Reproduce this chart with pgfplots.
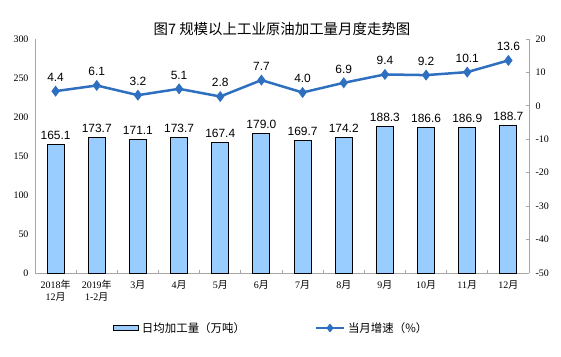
\documentclass[border=0pt]{standalone}
\usepackage{fontspec}
\setmainfont{Liberation Serif}
\newfontfamily\cjk{Noto Sans CJK SC}
\newfontfamily\arial{Liberation Sans}
\usepackage{pgfplots}
\pgfplotsset{compat=1.18}
\definecolor{barblue}{HTML}{99CCFF}
\definecolor{lineblue}{HTML}{2E6FC0}
\definecolor{axgray}{HTML}{A6A6A6}
\newcommand{\zh}[1]{{\cjk #1}}
\begin{document}
\begin{tikzpicture}
\useasboundingbox (-35bp,-84bp) rectangle (526bp,273bp);
\begin{axis}[
  scale only axis, width=494bp, height=234bp,
  xmin=-0.5, xmax=11.5, ymin=0, ymax=300,
  ytick={0,50,...,300},
  xtick={0,...,11},
  xticklabels={2018\zh{年}\\12\zh{月}, 2019\zh{年}\\1-2\zh{月}, 3\zh{月}, 4\zh{月}, 5\zh{月}, 6\zh{月}, 7\zh{月}, 8\zh{月}, 9\zh{月}, 10\zh{月}, 11\zh{月}, 12\zh{月}},
  x tick label style={font=\fontsize{10}{12}\selectfont, align=center, yshift=-4bp},
  y tick label style={font=\fontsize{10}{11}\selectfont, xshift=-3bp},
  /pgf/number format/assume math mode=true,
  major tick length=0pt,
  minor xtick={-0.5,0.5,...,11.5},
  minor tick length=3bp,
  tick align=inside,
  axis x line*=bottom, axis y line*=left,
  axis line style={axgray, line width=0.8bp, -},
  minor tick style={axgray, line width=0.8bp},
  title={\cjk\fontsize{14.5}{16}\selectfont 图7\ 规模以上工业原油加工量月度走势图},
  title style={at={(0.5,1)}, anchor=south, yshift=-6bp},
  clip=false,
]
\addplot[ybar, bar width=17bp, fill=barblue, draw=black, line width=1bp,
  nodes near coords={\pgfmathprintnumber[fixed, fixed zerofill, precision=1, assume math mode=true]{\pgfplotspointmeta}},
  every node near coord/.append style={font=\arial\fontsize{12}{13}\selectfont, black, yshift=1bp}]
coordinates {(0,165.1) (1,173.7) (2,171.1) (3,173.7) (4,167.4) (5,179.0) (6,169.7) (7,174.2) (8,188.3) (9,186.6) (10,186.9) (11,188.7)};
\end{axis}
\begin{axis}[
  scale only axis, width=494bp, height=234bp,
  xmin=-0.5, xmax=11.5, ymin=-50, ymax=20,
  ytick={-50,-40,...,20},
  axis y line*=right, axis x line=none,
  axis line style={axgray, line width=0.8bp, -},
  major tick length=3bp, tick align=inside,
  major tick style={axgray, line width=0.8bp},
  y tick label style={font=\fontsize{10}{11}\selectfont, xshift=3bp},
  /pgf/number format/assume math mode=true,
  clip=false,
  legend columns=2,
  legend style={draw=none, fill=none, at={(0.478,-0.235)}, anchor=center,
    font=\cjk\fontsize{11.5}{13}\selectfont,
    /tikz/every even column/.append style={column sep=68bp},
    /tikz/every odd column/.append style={column sep=1bp}},
]
\addlegendimage{legend image code/.code={\draw[fill=barblue,draw=black,line width=1bp] (0bp,-2.5bp) rectangle (25bp,2.5bp);}}
\addlegendentry{日均加工量（万吨）}
\addplot[lineblue, line width=2.5bp, mark=diamond*, mark size=3.5bp,
  nodes near coords={\pgfmathprintnumber[fixed, fixed zerofill, precision=1, assume math mode=true]{\pgfplotspointmeta}},
  every node near coord/.append style={font=\arial\fontsize{12}{13}\selectfont, black, yshift=5bp},
  legend image code/.code={\draw[lineblue,line width=2bp] (0bp,0bp)--(28bp,0bp); \fill[lineblue] (14bp,2.5bp)--(16bp,0bp)--(14bp,-2.5bp)--(12bp,0bp)--cycle;}]
coordinates {(0,4.4) (1,6.1) (2,3.2) (3,5.1) (4,2.8) (5,7.7) (6,4.0) (7,6.9) (8,9.4) (9,9.2) (10,10.1) (11,13.6)};
\addlegendentry{当月增速（\%）}
\end{axis}
\end{tikzpicture}
\end{document}
